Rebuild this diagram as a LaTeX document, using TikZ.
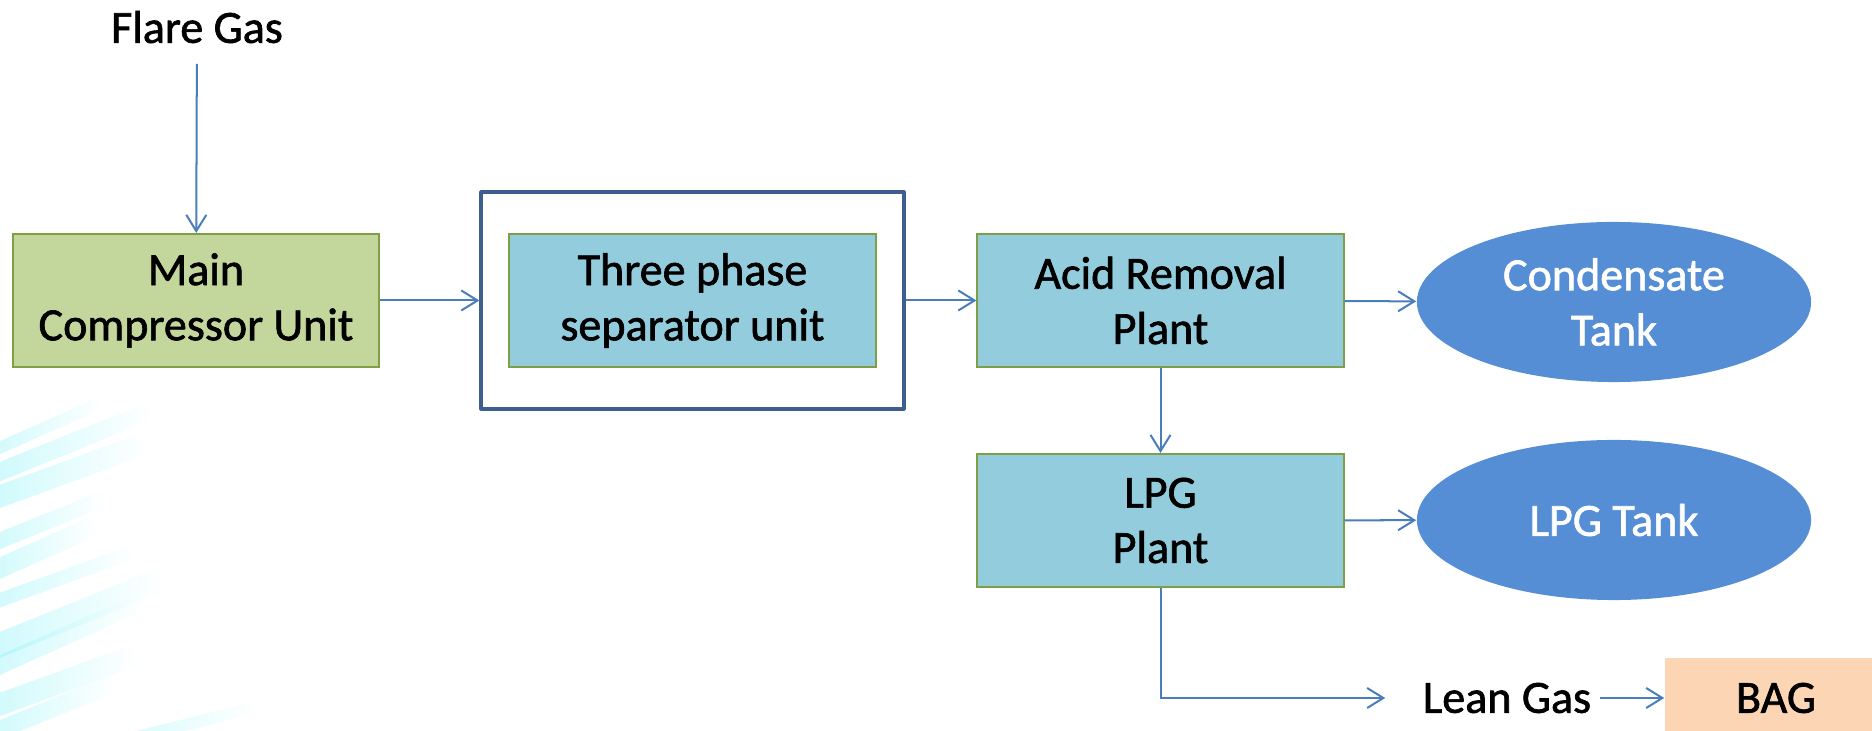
\documentclass[tikz,border=0pt]{standalone}
\usepackage{fontspec}
\setmainfont{Carlito}[UprightFeatures={FakeBold=1.4}]
\usetikzlibrary{arrows.meta,shapes.geometric,fit}
\definecolor{flowblue}{HTML}{4A7EBB}
\definecolor{unitgreen}{HTML}{C3D69B}
\definecolor{plantblue}{HTML}{93CDDD}
\definecolor{edgegreen}{HTML}{7F9F45}
\definecolor{frameblue}{HTML}{3C5F8F}
\definecolor{tankblue}{HTML}{558ED5}
\definecolor{bagpeach}{HTML}{FCD5B5}
\definecolor{streak}{HTML}{6CEFF5}

\begin{document}
\begin{tikzpicture}[x=0.01cm,y=-0.01cm]
		\tikzstyle{every node}+=[font=\fontsize{13.1}{15.7}\selectfont]
		\tikzstyle{unitbox}=[draw=edgegreen,line width=0.57pt,minimum width=3.66cm,minimum height=1.33cm,align=center,inner sep=0pt]
		\tikzstyle{tankoval}=[ellipse,fill=tankblue,text=white,minimum width=3.94cm,minimum height=1.6cm,align=center,inner sep=0pt]
		\tikzstyle{flowline}=[draw=flowblue,line width=0.57pt,-{Straight Barb[length=4.6pt,width=5.7pt]}]
		\useasboundingbox (0,0) rectangle (1872,731);
		\foreach \sx/\sy/\len/\wid/\ang in {-20/450/130/12/24,-20/470/180/18/22,-20/492/170/22/20,-20/540/130/16/22,-20/566/120/20/24,-20/600/160/14/20,-20/640/190/24/22,-20/664/170/18/24,-20/700/160/22/20,-20/728/140/18/22,80/745/180/12/14}
			\shade[left color=streak,right color=white,opacity=0.35,rotate around={\ang:(\sx,\sy)}] (\sx,\sy) rectangle ++(\len,\wid);
		\node [inner sep=0.2cm] (flare) at (197,27) {Flare Gas};
		\node [unitbox,fill=unitgreen] (main) at (196,300.5) {Main\\Compressor Unit};
		\node [unitbox,fill=plantblue] (sep) at (692.5,300.5) {Three phase\\separator unit};
		\node [draw=frameblue,line width=1.14pt,line join=round,fit=(sep),inner xsep=0.27cm,inner ysep=0.405cm] (frame) {};
		\node [unitbox,fill=plantblue] (acid) at (1160.5,300.5) {Acid Removal\\Plant};
		\node [unitbox,fill=plantblue] (lpg) at (1160.5,520.5) {LPG\\Plant};
		\node [tankoval] (cond) at (1614,302) {Condensate\\Tank};
		\node [tankoval] (lpgtank) at (1614,520) {LPG Tank};
		\node [inner xsep=0.08cm] (lean) at (1507,698) {Lean Gas};
		\node [fill=bagpeach,minimum width=2.22cm,minimum height=0.8cm] (bag) at (1776,698) {BAG};
		\draw [flowline] (flare) -- (main);
		\draw [flowline] (main) -- (frame);
		\draw [flowline] (frame) -- (acid);
		\draw [flowline] (acid) -- (cond);
		\draw [flowline] (acid) -- (lpg);
		\draw [flowline] (lpg) -- (lpgtank);
		\draw [flowline] (lpg.south) |- ([xshift=-0.29cm]lean.west);
		\draw [flowline] (lean) -- (bag);
	\end{tikzpicture}
\end{document}
